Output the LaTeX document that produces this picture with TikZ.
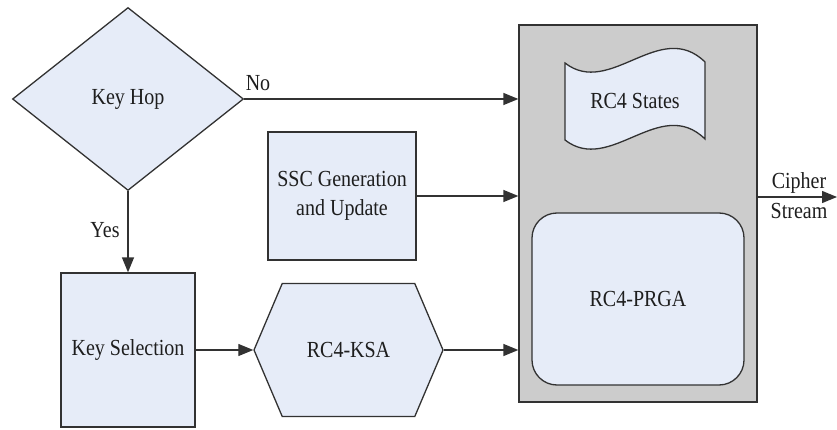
\documentclass[tikz,border=0pt]{standalone}
\usepackage{fontspec}
\setmainfont{Liberation Serif}
\newfontfamily\tms{Liberation Serif}[FakeStretch=0.87]
\usetikzlibrary{arrows.meta,shapes.geometric,shapes.symbols}
\definecolor{boxfill}{RGB}{230,236,248}
\definecolor{outer}{RGB}{204,204,204}
\definecolor{edge}{RGB}{50,50,50}
\definecolor{txt}{RGB}{30,30,30}
\begin{document}
\begin{tikzpicture}[x=1pt,y=-1pt,
  font=\tms\fontsize{23}{29}\selectfont, text=txt,
  blk/.style={draw=edge, line width=1.3pt, fill=boxfill, inner sep=0pt, align=center},
  conn/.style={draw=edge, line width=1.3pt, -{Triangle[length=15pt,width=12pt]}},
  lbl/.style={inner sep=0pt, align=center}]
\useasboundingbox (0,0) rectangle (837,430);
% outer gray box
\node[draw=edge, line width=1.3pt, fill=outer, minimum width=238pt, minimum height=377pt, inner sep=0pt] (rc4) at (638,213.5) {};
% RC4 states (tape)
\draw[draw=edge, line width=1.3pt, fill=boxfill]
  (565,63) .. controls (610,98) and (660,18) .. (705,62)
  -- (705,139) .. controls (660,95) and (610,175) .. (565,140) -- cycle;
\node[lbl] (states) at (635,101) {RC4 States};
\node[blk, rounded corners=25pt, minimum width=212pt, minimum height=172pt] (prga) at (638,299) {RC4-PRGA};
% left side
\node[blk, diamond, minimum width=231pt, minimum height=183pt] (hop) at (128,99) {Key Hop};
\node[blk, minimum width=148pt, minimum height=128pt] (ssc) at (342,196) {SSC Generation\\and Update};
\node[blk, minimum width=134pt, minimum height=154pt] (sel) at (128,350) {Key Selection};
\node[blk, signal, signal to=west and east, signal pointer angle=134, minimum width=189pt, minimum height=133pt] (ksa) at (348.5,350) {RC4-KSA};
\coordinate (out) at (837,197);
% connectors
\draw[conn] (hop.east) -- (hop.east -| rc4.west);
\draw[conn] (ssc.east) -- (ssc.east -| rc4.west);
\draw[conn] (hop.south) -- (sel.north);
\draw[conn] (sel.east) -- (ksa.west);
\draw[conn] (ksa.east) -- (ksa.east -| rc4.west);
\draw[conn] (out -| rc4.east) -- (out);
% labels
\node[lbl] (no) at (258,83) {No};
\node[lbl] (yes) at (105,230) {Yes};
\node[lbl] (ciph) at (799,183) {Cipher};
\node[lbl] (strm) at (799,211) {Stream};
\end{tikzpicture}
\end{document}
